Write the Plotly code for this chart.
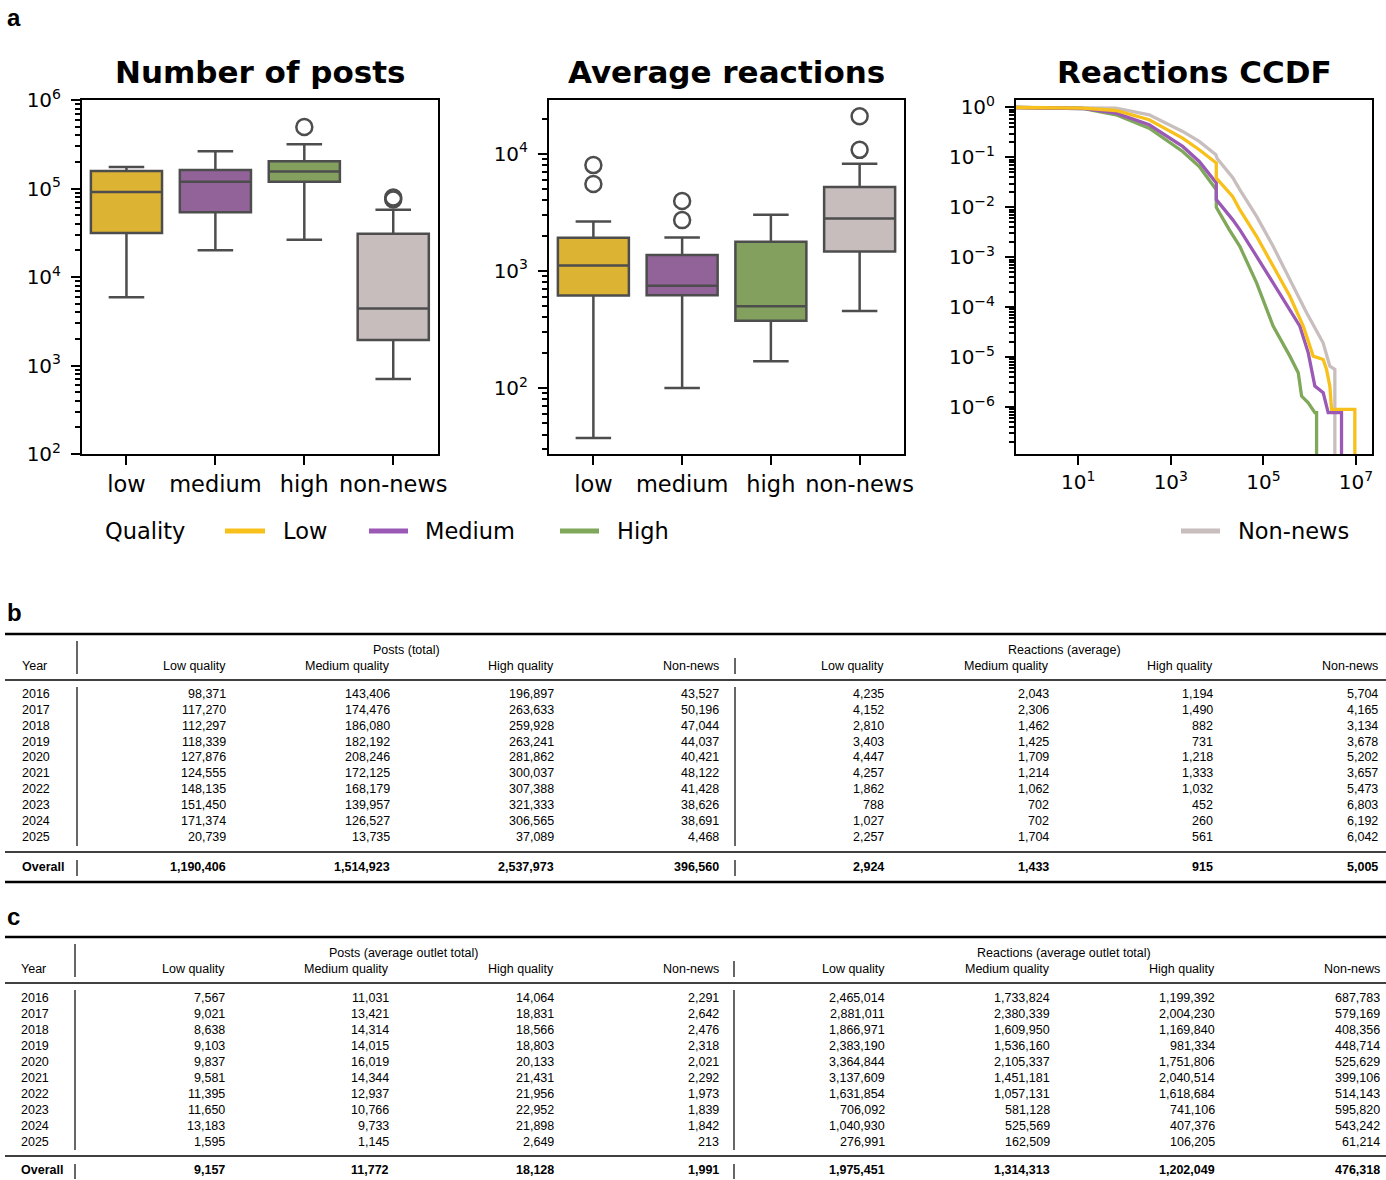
import plotly.graph_objects as go

W, H = 1386, 1180

# ---------------- data ----------------
categories = ["low", "medium", "high", "non-news"]
box_fill = ["#DDB334", "#916399", "#83A05E", "#C6BDBC"]
line_colors = ["#F7C01B", "#9B59B6", "#7FA85A", "#C8BEBE"]
legend_labels = ["Low", "Medium", "High", "Non-news"]

# Panel: Number of posts (box statistics)
posts_lower = [5900, 20000, 26400, 703]
posts_q1 = [31400, 54000, 119000, 1940]
posts_median = [91000, 119000, 156000, 4400]
posts_q3 = [158000, 162000, 203000, 30900]
posts_upper = [175000, 263000, 317000, 57700]
posts_out_cat = ["high", "non-news", "non-news"]
posts_out_val = [495000, 75000, 79000]

# Panel: Average reactions (box statistics)
react_lower = [37.4, 100, 169, 455]
react_q1 = [617, 620, 374, 1465]
react_median = [1111, 745, 499, 2805]
react_q3 = [1914, 1365, 1770, 5190]
react_upper = [2643, 1929, 3012, 8216]
react_out_cat = ["low", "low", "medium", "medium", "non-news", "non-news"]
react_out_val = [5508, 8000, 2712, 3945, 10800, 20900]

# Panel: Reactions CCDF
ccdf_low_x = [0.452, 12.4, 65.2, 341, 1799, 4111, 9600, 9600, 21630, 30900, 71290, 162200,
              373300, 726100, 1.191e6, 1.959e6, 2.312e6, 2.729e6, 2.965e6, 9.462e6, 9.462e6]
ccdf_low_y = [1, 0.971, 0.871, 0.568, 0.244, 0.1426, 0.0771, 0.0386, 0.0166, 0.00899,
              0.00263, 6.61e-4, 1.66e-4, 4.17e-5, 1.047e-5, 8.99e-6, 5.68e-6, 2.63e-6,
              8.99e-7, 8.99e-7, 1e-9]
ccdf_med_x = [0.452, 12.4, 65.2, 341, 1799, 4111, 9600, 9600, 21630, 30900, 71290, 162200,
              373300, 613800, 931100, 1.294e6, 1.959e6, 2.512e6, 4.875e6, 4.875e6]
ccdf_med_y = [1, 0.955, 0.771, 0.451, 0.166, 0.0832, 0.0309, 0.01426, 0.00568, 0.00358,
              0.001047, 3.07e-4, 8.99e-5, 4.17e-5, 1.22e-5, 2.63e-6, 1.94e-6, 7.71e-7,
              7.71e-7, 1e-9]
ccdf_high_x = [0.452, 12.4, 65.2, 341, 1799, 4111, 9600, 9600, 18280, 30900, 71290, 107200,
               162200, 373300, 566200, 668300, 931100, 1.294e6, 1.409e6, 1.409e6]
ccdf_high_y = [1, 0.955, 0.715, 0.386, 0.1318, 0.0661, 0.0226, 0.01, 0.00358, 0.00166,
               3.07e-4, 1.12e-4, 4.17e-5, 1.047e-5, 4.86e-6, 1.66e-6, 1.22e-6, 7.71e-7,
               7.71e-7, 1e-9]
ccdf_non_x = [0.452, 12.4, 65.2, 341, 1799, 4111, 9419, 10000, 21630, 30900, 71290, 162200,
              373300, 857000, 1.950e6, 2.291e6, 2.729e6, 3.499e6, 3.499e6]
ccdf_non_y = [1, 0.989, 0.971, 0.715, 0.331, 0.209, 0.1132, 0.0955, 0.0398, 0.0226,
              0.00661, 0.00166, 3.58e-4, 7.71e-5, 1.94e-5, 1.22e-5, 6.61e-6, 5.68e-6, 1e-9]

# Table b
years = ["2016", "2017", "2018", "2019", "2020", "2021", "2022", "2023", "2024", "2025"]
tb_posts_low = [98371, 117270, 112297, 118339, 127876, 124555, 148135, 151450, 171374, 20739]
tb_posts_med = [143406, 174476, 186080, 182192, 208246, 172125, 168179, 139957, 126527, 13735]
tb_posts_high = [196897, 263633, 259928, 263241, 281862, 300037, 307388, 321333, 306565, 37089]
tb_posts_non = [43527, 50196, 47044, 44037, 40421, 48122, 41428, 38626, 38691, 4468]
tb_react_low = [4235, 4152, 2810, 3403, 4447, 4257, 1862, 788, 1027, 2257]
tb_react_med = [2043, 2306, 1462, 1425, 1709, 1214, 1062, 702, 702, 1704]
tb_react_high = [1194, 1490, 882, 731, 1218, 1333, 1032, 452, 260, 561]
tb_react_non = [5704, 4165, 3134, 3678, 5202, 3657, 5473, 6803, 6192, 6042]
tb_overall = [1190406, 1514923, 2537973, 396560, 2924, 1433, 915, 5005]

# Table c
tc_posts_low = [7567, 9021, 8638, 9103, 9837, 9581, 11395, 11650, 13183, 1595]
tc_posts_med = [11031, 13421, 14314, 14015, 16019, 14344, 12937, 10766, 9733, 1145]
tc_posts_high = [14064, 18831, 18566, 18803, 20133, 21431, 21956, 22952, 21898, 2649]
tc_posts_non = [2291, 2642, 2476, 2318, 2021, 2292, 1973, 1839, 1842, 213]
tc_react_low = [2465014, 2881011, 1866971, 2383190, 3364844, 3137609, 1631854, 706092, 1040930, 276991]
tc_react_med = [1733824, 2380339, 1609950, 1536160, 2105337, 1451181, 1057131, 581128, 525569, 162509]
tc_react_high = [1199392, 2004230, 1169840, 981334, 1751806, 2040514, 1618684, 741106, 407376, 106205]
tc_react_non = [687783, 579169, 408356, 448714, 525629, 399106, 514143, 595820, 543242, 61214]
tc_overall = [9157, 11772, 18128, 1991, 1975451, 1314313, 1202049, 476318]

col_headers = ["Low quality", "Medium quality", "High quality", "Non-news"]

# ---------------- helpers ----------------
FONT = "DejaVu Sans"
TFONT = "Liberation Sans, Arial, sans-serif"
EDGE = "#4d4d4d"


def px(x):
    return x / W


def py(y):
    return 1 - y / H


fig = go.Figure()

# ---- box plots ----
for i, c in enumerate(categories):
    fig.add_trace(go.Box(
        x=[c], q1=[posts_q1[i]], median=[posts_median[i]], q3=[posts_q3[i]],
        lowerfence=[posts_lower[i]], upperfence=[posts_upper[i]],
        fillcolor=box_fill[i], line=dict(color=EDGE, width=2.5), width=0.8,
        whiskerwidth=0.5, boxpoints=False, showlegend=False, hoverinfo="skip",
        xaxis="x", yaxis="y"))
    fig.add_trace(go.Box(
        x=[c], q1=[react_q1[i]], median=[react_median[i]], q3=[react_q3[i]],
        lowerfence=[react_lower[i]], upperfence=[react_upper[i]],
        fillcolor=box_fill[i], line=dict(color=EDGE, width=2.5), width=0.8,
        whiskerwidth=0.5, boxpoints=False, showlegend=False, hoverinfo="skip",
        xaxis="x2", yaxis="y2"))

out_marker = dict(symbol="circle-open", size=16, color=EDGE, line=dict(width=2.5, color=EDGE))
fig.add_trace(go.Scatter(x=posts_out_cat, y=posts_out_val, mode="markers",
                         marker=out_marker, showlegend=False, xaxis="x", yaxis="y"))
fig.add_trace(go.Scatter(x=react_out_cat, y=react_out_val, mode="markers",
                         marker=out_marker, showlegend=False, xaxis="x2", yaxis="y2"))

# ---- CCDF lines ----
ccdf = [(ccdf_non_x, ccdf_non_y, 3), (ccdf_high_x, ccdf_high_y, 2),
        (ccdf_med_x, ccdf_med_y, 1), (ccdf_low_x, ccdf_low_y, 0)]
for xs, ys, k in ccdf:
    fig.add_trace(go.Scatter(x=xs, y=ys, mode="lines",
                             line=dict(color=line_colors[k], width=3.3),
                             showlegend=False, xaxis="x3", yaxis="y3"))


# ---- axes ----
def decade_ticks(lo, hi):
    vals = [10.0 ** e for e in range(lo, hi + 1)]
    txt = ["10<sup>%s</sup>" % (("\u2212%d" % -e) if e < 0 else "%d" % e) for e in range(lo, hi + 1)]
    return vals, txt


def minor_vals(lo, hi):
    return [m * 10.0 ** e for e in range(lo, hi + 1) for m in range(2, 10)]


def log_y(rng, lo, hi, domain, anchor):
    tv, tt = decade_ticks(lo, hi)
    return dict(type="log", range=rng, domain=domain, anchor=anchor,
                tickmode="array", tickvals=tv, ticktext=tt,
                ticks="outside", ticklen=9, tickwidth=2, tickcolor="black",
                ticklabelstandoff=6,
                showline=True, linewidth=2, linecolor="black", mirror=True,
                showgrid=False, zeroline=False,
                tickfont=dict(family=FONT, size=20, color="black"),
                minor=dict(tickvals=minor_vals(lo - 2, hi + 1), ticks="outside",
                           ticklen=5, tickwidth=1.5, tickcolor="black", showgrid=False))


def cat_x(domain, anchor):
    return dict(type="category", range=[-0.5, 3.5], domain=domain, anchor=anchor,
                categoryorder="array", categoryarray=categories,
                ticks="outside", ticklen=9, tickwidth=2, tickcolor="black",
                showline=True, linewidth=2, linecolor="black", mirror=True,
                showgrid=False, zeroline=False,
                tickfont=dict(family=FONT, size=22.5, color="black"))


ydom = [py(454), py(100)]
dom1 = [px(82), px(437.7)]
dom2 = [px(549), px(904)]
dom3 = [px(1016), px(1371.7)]

xtv, xtt = decade_ticks(1, 7)
layout = dict(
    width=W, height=H, margin=dict(l=0, r=0, t=0, b=0, autoexpand=False),
    paper_bgcolor="white", plot_bgcolor="white", showlegend=False,
    xaxis=cat_x(dom1, "y"),
    yaxis=log_y([2, 6], 2, 6, ydom, "x"),
    xaxis2=cat_x(dom2, "y2"),
    yaxis2=log_y([1.436, 4.459], 2, 4, ydom, "x2"),
    xaxis3=dict(type="log", range=[-0.345, 7.34], domain=dom3, anchor="y3",
                tickmode="array", tickvals=xtv[::2], ticktext=xtt[::2],
                ticks="outside", ticklen=9, tickwidth=2, tickcolor="black",
                showline=True, linewidth=2, linecolor="black", mirror=True,
                showgrid=False, zeroline=False,
                tickfont=dict(family=FONT, size=20, color="black")),
    yaxis3=log_y([-6.94, 0.15], -6, 0, ydom, "x3"),
)
fig.update_layout(**layout)

annotations = []
shapes = []


def text(x, y, s, size, anchor="left", family=FONT, color="black"):
    annotations.append(dict(x=px(x), y=py(y), xref="paper", yref="paper", text=s,
                            showarrow=False, xanchor=anchor, yanchor="middle",
                            font=dict(family=family, size=size, color=color)))


def hline(x0, x1, y, w, color="black"):
    shapes.append(dict(type="line", xref="paper", yref="paper", x0=px(x0), x1=px(x1),
                       y0=py(y), y1=py(y), line=dict(color=color, width=w)))


def vline(x, y0, y1, w=1.2, color="black"):
    shapes.append(dict(type="line", xref="paper", yref="paper", x0=px(x), x1=px(x),
                       y0=py(y0), y1=py(y1), line=dict(color=color, width=w)))


# panel labels & titles
text(5, 17, "<b>a</b>", 24, family="Liberation Sans, Arial")
text(5, 612, "<b>b</b>", 24, family="Liberation Sans, Arial")
text(5, 916, "<b>c</b>", 24, family="Liberation Sans, Arial")
text(259.9, 72, "<b>Number of posts</b>", 31, anchor="center")
text(726.5, 72, "<b>Average reactions</b>", 31, anchor="center")
text(1194, 72, "<b>Reactions CCDF</b>", 31, anchor="center")

# legend
text(103, 531, "Quality", 22.5)
leg_pos = [(225, 265, 281), (369, 408, 423), (560, 599, 615), (1181, 1220, 1236)]
for k, (a, b, t) in enumerate(leg_pos):
    hline(a, b, 531, 5, line_colors[k])
    text(t, 531, legend_labels[k], 22.5)


def fmt(v):
    return "{:,}".format(v)


def draw_table(top, rows_y, header_y, group_y, overall_y, mid_line, over_line, bottom,
               year_x, sep1, sep2, rights, group_titles, group_centers, cols, overall):
    TS = 12.5
    hline(5, 1386, top, 2.5)
    hline(5, 1386, mid_line, 1.6)
    hline(5, 1386, over_line, 1.6)
    hline(5, 1386, bottom, 2.5)
    text(group_centers[0], group_y, group_titles[0], TS, anchor="center", family=TFONT)
    text(group_centers[1], group_y, group_titles[1], TS, anchor="center", family=TFONT)
    text(year_x, header_y, "Year", TS, family=TFONT)
    for j in range(8):
        text(rights[j], header_y, col_headers[j % 4], TS, anchor="right", family=TFONT)
    for i, yr in enumerate(years):
        text(year_x, rows_y[i], yr, TS, family=TFONT)
        for j in range(8):
            text(rights[j], rows_y[i], fmt(cols[j][i]), TS, anchor="right", family=TFONT)
    text(year_x, overall_y, "<b>Overall</b>", TS, family=TFONT)
    for j in range(8):
        text(rights[j], overall_y, "<b>%s</b>" % fmt(overall[j]), TS, anchor="right", family=TFONT)
    # separators
    vline(sep1, top + 7, mid_line - 6)
    vline(sep2, header_y - 8, mid_line - 6)
    vline(sep1, mid_line + 7, over_line - 6)
    vline(sep2, mid_line + 7, over_line - 6)
    vline(sep1, over_line + 8, overall_y + 9)
    vline(sep2, over_line + 8, overall_y + 9)


rows_b = [694 + 15.86 * i for i in range(10)]
draw_table(634, rows_b, 666, 650, 867, 680, 852, 882, 20, 77, 735,
           [228, 392, 556, 721, 886, 1051, 1215, 1380],
           ["Posts (total)", "Reactions (average)"], [406, 1064],
           [tb_posts_low, tb_posts_med, tb_posts_high, tb_posts_non,
            tb_react_low, tb_react_med, tb_react_high, tb_react_non], tb_overall)

rows_c = [997.5 + 16.0 * i for i in range(10)]
draw_table(937, rows_c, 969, 953, 1170, 983, 1156, 1186, 19, 75, 734,
           [227, 391, 556, 721, 887, 1052, 1217, 1382],
           ["Posts (average outlet total)", "Reactions (average outlet total)"], [404, 1064],
           [tc_posts_low, tc_posts_med, tc_posts_high, tc_posts_non,
            tc_react_low, tc_react_med, tc_react_high, tc_react_non], tc_overall)

fig.update_layout(annotations=annotations, shapes=shapes)
fig.write_html("out.html", config={"displayModeBar": False},
               post_script="document.body.style.margin='0px';")
